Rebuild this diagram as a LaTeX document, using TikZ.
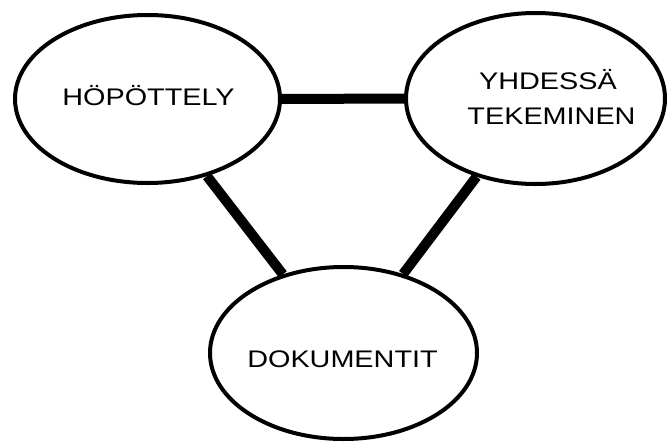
\documentclass[tikz,border=0pt]{standalone}
\usepackage{fontspec}
\setmainfont{Liberation Sans}[FakeStretch=1.2]
\usetikzlibrary{shapes.geometric}
\begin{document}
\begin{tikzpicture}[x=1pt,y=-1pt,
  bubble/.style={ellipse, draw=black, line width=4pt, fill=white, inner sep=0pt},
  link/.style={line width=10pt, black},
  caption/.style={font=\fontsize{24}{28}\selectfont, text height=17.2pt, text depth=0pt, inner sep=0pt}]
\useasboundingbox[fill=white] (0,0) rectangle (667,442);
% the three topics
\node[bubble, minimum width=265pt, minimum height=168pt] (hop) at (147.5,99) {};
\node[bubble, minimum width=259pt, minimum height=171pt] (yhd) at (535.5,98.5) {};
\node[bubble, minimum width=267pt, minimum height=172pt] (dok) at (343.5,353) {};
% thick links between the topics
\draw[link] (hop) -- (yhd);
\draw[link] (hop) -- (dok);
\draw[link] (yhd) -- (dok);
% labels
\node[caption] (thop) at (148.5,96.7) {HÖPÖTTELY};
\node[caption] (tyhd1) at (548,81) {YHDESSÄ};
\node[caption] (tyhd2) at (551.5,116) {TEKEMINEN};
\node[caption] (tdok) at (342.5,358.5) {DOKUMENTIT};
\end{tikzpicture}
\end{document}
